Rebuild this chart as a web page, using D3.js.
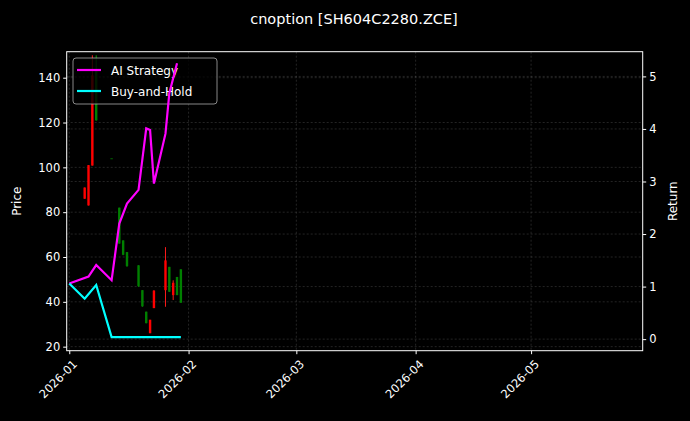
<!DOCTYPE html>
<html>
<head>
<meta charset="utf-8">
<script src="https://cdn.jsdelivr.net/npm/d3@7"></script>
<style>
  body { margin: 0; background: #000; }
  text { font-family: "DejaVu Sans", sans-serif; fill: #fff; }
</style>
</head>
<body>
<script>
// candles: date, open, high, low, close
const candleDates = ["2026-01-05","2026-01-06","2026-01-07","2026-01-08","2026-01-12","2026-01-14","2026-01-15",
  "2026-01-16","2026-01-19","2026-01-20","2026-01-21","2026-01-22","2026-01-23","2026-01-26","2026-01-27",
  "2026-01-28","2026-01-29","2026-01-30"];
const opens  = [91, 101, 141, 121, 104, 66, 61, 56, 47, 38, 30.5, 32, 45, 58.5, 44.5, 48.5, 43, 39.6];
const highs  = [91, 101, 150, 150, 104, 82, 67.4, 62.2, 56.3, 45.2, 35.6, 32, 45.2, 64.4, 55.6, 49.6, 51.1, 54.5];
const lows   = [86, 83, 100.8, 120.8, 104, 66, 60.8, 55.6, 46.7, 37.8, 30.4, 26, 37.2, 37.8, 44.4, 40.8, 43, 39.6];
const closes = [86, 83, 100.8, 143, 104, 82, 67.4, 62.2, 56.3, 45.2, 35.6, 26, 37.2, 45.2, 55.6, 43, 51.1, 54.5];

const aiDates = ["2026-01-01","2026-01-06","2026-01-08","2026-01-12","2026-01-14","2026-01-16","2026-01-19",
  "2026-01-21","2026-01-22","2026-01-23","2026-01-26","2026-01-27","2026-01-29"];
const aiValues = [1.06, 1.19, 1.41, 1.12, 2.20, 2.58, 2.84, 4.01, 3.98, 2.96, 3.91, 4.68, 5.25];

const bhDates = ["2026-01-01","2026-01-05","2026-01-08","2026-01-12","2026-01-30"];
const bhValues = [1.06, 0.77, 1.03, 0.04, 0.04];

const priceTicks = [20, 40, 60, 80, 100, 120, 140];
const returnTicks = [0, 1, 2, 3, 4, 5];
const monthTicks = ["2026-01-01","2026-02-01","2026-03-01","2026-04-01","2026-05-01"];

const parse = d3.timeParse("%Y-%m-%d");
const W = 690, H = 421;
const m = {left: 66.7, right: 642.7, top: 51.7, bottom: 350.7};

const svg = d3.select("body").append("svg").attr("width", W).attr("height", H)
  .style("background", "#000");

const x = d3.scaleTime()
  .domain([new Date(2025, 11, 31, 8), new Date(2026, 4, 30, 0)])
  .range([m.left, m.right]);
const yP = d3.scaleLinear().domain([18.2, 151.6]).range([m.bottom, m.top]);
const yR = d3.scaleLinear().domain([-0.22, 5.47]).range([m.bottom, m.top]);

const defs = svg.append("defs");
defs.append("clipPath").attr("id", "clip").append("rect")
  .attr("x", m.left).attr("y", m.top).attr("width", m.right - m.left).attr("height", m.bottom - m.top);

// grid
const grid = svg.append("g").attr("stroke", "#888").attr("stroke-opacity", 0.45)
  .attr("stroke-width", 0.6).attr("stroke-dasharray", "2,2");
priceTicks.forEach(t => grid.append("line").attr("x1", m.left).attr("x2", m.right)
  .attr("y1", yP(t)).attr("y2", yP(t)));
returnTicks.forEach(t => grid.append("line").attr("x1", m.left).attr("x2", m.right)
  .attr("y1", yR(t)).attr("y2", yR(t)));
monthTicks.forEach(t => grid.append("line").attr("y1", m.top).attr("y2", m.bottom)
  .attr("x1", x(parse(t))).attr("x2", x(parse(t))));

// candles
const plot = svg.append("g").attr("clip-path", "url(#clip)");
candleDates.forEach((d, i) => {
  const up = closes[i] >= opens[i];
  const col = up ? "#00a000" : "#ff1a1a";
  const cx = x(parse(d));
  plot.append("line").attr("x1", cx).attr("x2", cx)
    .attr("y1", yP(highs[i])).attr("y2", yP(lows[i]))
    .attr("stroke", col).attr("stroke-width", 1);
  const top = yP(Math.max(opens[i], closes[i])), bot = yP(Math.min(opens[i], closes[i]));
  plot.append("rect").attr("x", cx - 1.2).attr("width", 2.4)
    .attr("y", top).attr("height", Math.max(bot - top, 0.8))
    .attr("fill", up ? "#008000" : "#ff0000");
});

// legend (drawn under the return lines)
const lg = svg.append("g").attr("transform", "translate(73,58)");
lg.append("rect").attr("width", 144).attr("height", 46).attr("rx", 3)
  .attr("fill", "#000").attr("fill-opacity", 0.8).attr("stroke", "#aaa").attr("stroke-width", 0.8);
[["AI Strategy", "#ff00ff"], ["Buy-and-Hold", "#00ffff"]].forEach(([t, c], i) => {
  lg.append("line").attr("x1", 4).attr("x2", 28).attr("y1", 12 + i * 21).attr("y2", 12 + i * 21)
    .attr("stroke", c).attr("stroke-width", 2.2);
  lg.append("text").attr("x", 38).attr("y", 16.5 + i * 21).style("font-size", "12px").text(t);
});

// return lines
const lines = svg.append("g").attr("clip-path", "url(#clip)");
const lineAI = d3.line().x((d, i) => x(parse(aiDates[i]))).y(d => yR(d));
const lineBH = d3.line().x((d, i) => x(parse(bhDates[i]))).y(d => yR(d));
lines.append("path").attr("d", lineAI(aiValues)).attr("fill", "none")
  .attr("stroke", "#ff00ff").attr("stroke-width", 2.2);
lines.append("path").attr("d", lineBH(bhValues)).attr("fill", "none")
  .attr("stroke", "#00ffff").attr("stroke-width", 2.2);

// frame
svg.append("rect").attr("x", m.left).attr("y", m.top).attr("width", m.right - m.left)
  .attr("height", m.bottom - m.top).attr("fill", "none").attr("stroke", "#fff").attr("stroke-width", 1);

// axes
const styleAxis = g => {
  g.select(".domain").remove();
  g.selectAll(".tick line").attr("stroke", "#fff");
  g.selectAll(".tick text").attr("fill", "#fff").style("font-size", "11.5px")
    .style("font-family", "DejaVu Sans, sans-serif");
};
svg.append("g").attr("transform", `translate(${m.left},0)`)
  .call(d3.axisLeft(yP).tickValues(priceTicks).tickSize(3.5).tickPadding(3)).call(styleAxis);
svg.append("g").attr("transform", `translate(${m.right},0)`)
  .call(d3.axisRight(yR).tickValues(returnTicks).tickFormat(d3.format("d")).tickSize(3.5).tickPadding(3))
  .call(styleAxis);
const xa = svg.append("g").attr("transform", `translate(0,${m.bottom})`)
  .call(d3.axisBottom(x).tickValues(monthTicks.map(parse)).tickFormat(d3.timeFormat("%Y-%m"))
    .tickSize(3.5)).call(styleAxis);
xa.selectAll(".tick text").attr("text-anchor", "end").attr("dy", null).attr("y", 0)
  .attr("transform", "translate(2,8) rotate(-45)").attr("dominant-baseline", "hanging");

// labels
svg.append("text").attr("x", 354).attr("y", 24).attr("text-anchor", "middle")
  .style("font-size", "14.5px").text("cnoption [SH604C2280.ZCE]");
svg.append("text").attr("transform", `translate(21,${(m.top + m.bottom) / 2}) rotate(-90)`)
  .attr("text-anchor", "middle").style("font-size", "12px").text("Price");
svg.append("text").attr("transform", `translate(677,${(m.top + m.bottom) / 2}) rotate(-90)`)
  .attr("text-anchor", "middle").style("font-size", "12px").text("Return");
</script>
</body>
</html>
